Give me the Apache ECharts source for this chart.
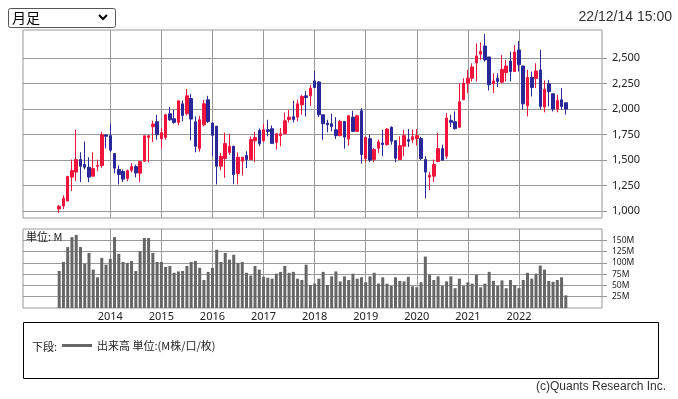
<!DOCTYPE html>
<html><head><meta charset="utf-8">
<script src="https://cdn.jsdelivr.net/npm/echarts@6/dist/echarts.min.js"></script>
<style>html,body{margin:0;padding:0;background:#fff}#c{width:678px;height:399px}</style>
</head><body><div id="c"></div>
<script>
// Monthly OHLC, each item [open, close, low, high]
const ohlc2013 = [[1020,1046,980,1059],[1049,1124,1020,1153],[1098,1339,1098,1339],[1333,1398,1196,1505],[1382,1505,1293,1799],[1505,1440,1284,1577],[1456,1430,1408,1682],[1430,1333,1284,1528],[1342,1417,1342,1577],[1440,1450,1391,1505],[1447,1750,1424,1779],[1747,1734,1616,1750]];
const ohlc2014 = [[1740,1597,1577,1858],[1564,1421,1368,1564],[1408,1359,1261,1447],[1388,1313,1284,1408],[1320,1395,1293,1408],[1400,1436,1380,1470],[1436,1374,1330,1455],[1371,1485,1283,1485],[1488,1739,1488,1739],[1723,1739,1478,1745],[1828,1854,1677,1886],[1877,1749,1700,1945]];
const ohlc2015 = [[1710,1769,1612,1815],[1723,1945,1700,1955],[1955,1896,1886,2023],[1906,1870,1857,1994],[1870,2082,1841,2082],[2053,1939,1880,2085],[1955,2131,1939,2200],[2105,1903,1694,2151],[1877,1635,1576,1929],[1615,1896,1583,1935],[1847,2053,1831,2092],[2092,1880,1864,2131]];
const ohlc2016 = [[1864,1743,1537,1870],[1832,1440,1261,1837],[1440,1537,1400,1570],[1515,1662,1326,1770],[1576,1635,1553,1759],[1635,1358,1263,1642],[1368,1528,1261,1576],[1489,1528,1349,1528],[1545,1505,1421,1587],[1505,1701,1504,1733],[1690,1723,1478,1779],[1792,1661,1635,1811]];
const ohlc2017 = [[1690,1798,1674,1854],[1798,1782,1733,1896],[1808,1664,1664,1840],[1674,1759,1602,1759],[1740,1759,1635,1815],[1759,1886,1759,1968],[1899,1922,1870,1994],[1926,1899,1870,2082],[1922,2053,1880,2092],[2043,2125,1945,2141],[2131,2115,1929,2180],[2131,2206,2033,2239]];
const ohlc2018 = [[2278,2213,2207,2376],[2268,1945,1922,2275],[1945,1857,1700,1945],[1864,1847,1772,1896],[1857,1831,1782,1955],[1798,1740,1707,1922],[1740,1880,1733,1896],[1880,1726,1612,1880],[1707,1935,1641,1945],[1922,1782,1782,1984],[1782,1935,1782,1945],[1984,1553,1465,2010]];
const ohlc2019 = [[1514,1723,1478,1733],[1710,1500,1478,1749],[1505,1603,1479,1620],[1616,1678,1571,1701],[1668,1652,1538,1799],[1652,1805,1642,1815],[1822,1685,1652,1832],[1691,1518,1479,1691],[1505,1642,1505,1734],[1636,1740,1538,1799],[1701,1685,1629,1805],[1701,1730,1668,1799]];
const ohlc2020 = [[1711,1740,1642,1805],[1711,1515,1499,1730],[1505,1382,1124,1538],[1333,1352,1205,1382],[1342,1457,1284,1505],[1486,1613,1479,1766],[1613,1499,1499,1652],[1538,1913,1512,1962],[1890,1871,1825,1946],[1877,1809,1799,1978],[1822,2073,1822,2256],[2092,2256,2092,2304]];
const ohlc2021 = [[2256,2304,2158,2386],[2304,2415,2272,2451],[2454,2523,2272,2647],[2542,2569,2484,2657],[2621,2484,2467,2738],[2513,2239,2184,2513],[2249,2278,2158,2353],[2304,2272,2216,2353],[2265,2392,2256,2533],[2360,2425,2272,2484],[2474,2370,2272,2565],[2370,2562,2370,2630]];
const ohlc2022 = [[2582,2438,2370,2670],[2425,2053,1995,2425],[2034,2311,1929,2386],[2314,2213,2125,2370],[2301,2376,2207,2451],[2386,2027,1995,2582],[2021,2197,1969,2282],[2249,2174,2027,2288],[2151,2001,1978,2151],[2001,2086,1969,2141],[2092,2027,1995,2207],[2063,2001,1946,2063]];

// Monthly volume (M)
const vol2013 = [82,102,135,157,162,135,98,122,85,68,111,96];
const vol2014 = [109,157,120,102,100,104,82,126,155,155,122,102];
const vol2015 = [102,91,93,78,81,82,93,102,104,89,62,80];
const vol2016 = [89,129,102,122,107,118,100,102,78,72,93,85];
const vol2017 = [69,67,65,76,80,93,78,80,65,62,96,51];
const vol2018 = [54,65,80,51,70,81,59,70,62,76,65,68];
const vol2019 = [57,70,78,54,68,54,49,68,60,59,69,48];
const vol2020 = [46,57,114,74,62,70,49,59,70,44,65,49];
const vol2021 = [57,54,74,46,54,80,60,49,61,44,62,51];
const vol2022 = [44,62,78,65,76,94,85,60,58,62,68,28];

const dataYears = ['2013','2014','2015','2016','2017','2018','2019','2020','2021','2022'];
const monthCodes = ['01','02','03','04','05','06','07','08','09','10','11','12'];
const padBefore = ['2012-05','2012-06','2012-07','2012-08','2012-09','2012-10','2012-11','2012-12'];
const padAfter = ['2023-01','2023-02','2023-03','2023-04','2023-05','2023-06','2023-07','2023-08'];
const yearLabels = ['2014','2015','2016','2017','2018','2019','2020','2021','2022'];
const priceTicks = [1000,1250,1500,1750,2000,2250,2500];
const volTicks = [25,50,75,100,125,150];
const volName = '出来高 単位:(M株/口/枚)';

const ohlcByYear = [ohlc2013,ohlc2014,ohlc2015,ohlc2016,ohlc2017,ohlc2018,ohlc2019,ohlc2020,ohlc2021,ohlc2022];
const volByYear = [vol2013,vol2014,vol2015,vol2016,vol2017,vol2018,vol2019,vol2020,vol2021,vol2022];

const categories = [...padBefore];
dataYears.forEach(y => monthCodes.forEach(m => categories.push(y + '-' + m)));
categories.push(...padAfter);

const candleData = padBefore.map(() => '-');
ohlcByYear.forEach(a => candleData.push(...a));
padAfter.forEach(() => candleData.push('-'));

const volData = padBefore.map(() => '-');
volByYear.forEach(a => volData.push(...a));
padAfter.forEach(() => volData.push('-'));

const GRID = '#999';
const TXT = '#222';
const isYearStart = v => v.endsWith('-01') && yearLabels.includes(v.slice(0, 4));
const vLines = yearLabels.map(y => ({ xAxis: y + '-01' }));

const chart = echarts.init(document.getElementById('c'), null, { renderer: 'canvas' });
chart.setOption({
  animation: false,
  backgroundColor: '#fff',
  grid: [
    { left: 23, right: 76, top: 30, height: 188, show: true, borderColor: GRID, borderWidth: 1, backgroundColor: 'transparent' },
    { left: 23, right: 76, top: 229, height: 79, show: true, borderColor: GRID, borderWidth: 1, backgroundColor: 'transparent' }
  ],
  xAxis: [
    { type: 'category', gridIndex: 0, data: categories, boundaryGap: true,
      axisLine: { show: false }, axisTick: { show: false }, axisLabel: { show: false }, splitLine: { show: false } },
    { type: 'category', gridIndex: 1, data: categories, boundaryGap: true,
      axisLine: { show: false }, axisTick: { show: false }, splitLine: { show: false },
      axisLabel: { interval: (i, v) => isYearStart(v), formatter: v => v.slice(0, 4),
        color: TXT, fontSize: 11, fontFamily: 'Noto Sans', margin: 3 } }
  ],
  yAxis: [
    { type: 'value', gridIndex: 0, position: 'right', min: 931, max: 2778,
      splitLine: { show: false }, axisLine: { show: false },
      axisTick: { show: true, customValues: priceTicks, length: 5, lineStyle: { color: GRID } },
      axisLabel: { customValues: priceTicks, formatter: v => Number(v).toLocaleString('en-US'),
        color: TXT, fontSize: 11, fontFamily: 'Noto Sans', margin: 10 } },
    { type: 'value', gridIndex: 1, position: 'right', min: 0, max: 175, interval: 25,
      splitLine: { show: true, lineStyle: { color: GRID, width: 1 } }, axisLine: { show: false },
      axisTick: { show: true, customValues: volTicks, length: 5, lineStyle: { color: GRID } },
      axisLabel: { customValues: volTicks, formatter: v => v + 'M',
        color: TXT, fontSize: 8.5, fontFamily: 'Noto Sans', margin: 10 } }
  ],
  legend: {
    left: 57, top: 335, itemWidth: 30, itemHeight: 3, icon: 'rect', selectedMode: false,
    data: [{ name: volName }],
    textStyle: { fontSize: 11, color: TXT, fontFamily: 'Noto Sans CJK JP' }
  },
  series: [
    { name: '株価', type: 'candlestick', xAxisIndex: 0, yAxisIndex: 0, data: candleData, barWidth: 3, z: 3,
      itemStyle: { color: '#f0143c', color0: '#2a2898', borderColor: '#f0143c', borderColor0: '#2a2898', borderWidth: 1 },
      markLine: { z: 1, silent: true, symbol: 'none', label: { show: false }, animation: false,
        lineStyle: { color: GRID, type: 'solid', width: 1 },
        emphasis: { disabled: true },
        data: [...vLines, ...priceTicks.map(v => ({ yAxis: v }))] } },
    { name: volName, type: 'bar', xAxisIndex: 1, yAxisIndex: 1, data: volData, barWidth: 3, z: 3,
      itemStyle: { color: '#666' },
      markLine: { z: 1, silent: true, symbol: 'none', label: { show: false }, animation: false,
        lineStyle: { color: GRID, type: 'solid', width: 1 },
        emphasis: { disabled: true },
        data: vLines } }
  ],
  graphic: [
    { type: 'rect', shape: { x: 8.5, y: 8.5, width: 107, height: 19, r: 2 }, style: { fill: '#fff', stroke: '#555', lineWidth: 1 } },
    { type: 'text', x: 12, y: 18, style: { text: '月足', font: '14px "Noto Sans CJK JP"', fill: '#000', verticalAlign: 'middle' } },
    { type: 'polyline', shape: { points: [[99, 15], [103, 19], [107, 15]] }, style: { stroke: '#000', lineWidth: 2, fill: null } },
    { type: 'text', x: 672, y: 17, style: { text: '22/12/14 15:00', font: '14px "Liberation Sans"', fill: '#333', align: 'right', verticalAlign: 'middle' } },
    { type: 'text', x: 26, y: 237, z: 10, style: { text: '単位: M', font: '11px "Noto Sans CJK JP"', fill: TXT, verticalAlign: 'middle' } },
    { type: 'rect', shape: { x: 23.5, y: 322.5, width: 635, height: 56 }, style: { fill: 'none', stroke: '#000', lineWidth: 1 } },
    { type: 'text', x: 32, y: 347, style: { text: '下段:', font: '11px "Noto Sans CJK JP"', fill: TXT, verticalAlign: 'middle' } },
    { type: 'text', x: 666, y: 387, style: { text: '(c)Quants Research Inc.', font: '12px "Liberation Sans"', fill: '#333', align: 'right', verticalAlign: 'middle' } }
  ]
});
</script>
</body></html>
